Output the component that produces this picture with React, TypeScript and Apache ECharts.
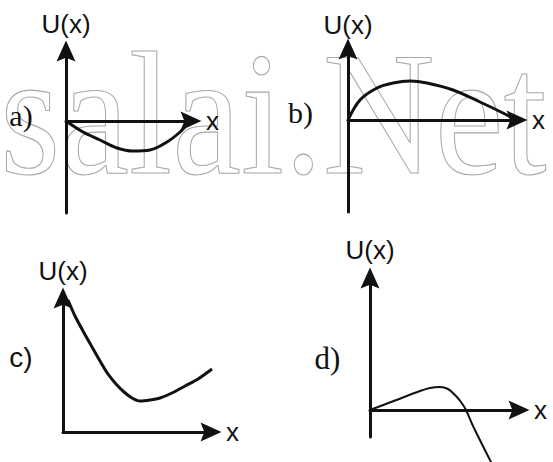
import React, { useEffect, useRef } from "react";
import * as echarts from "echarts";

// Curves (x, U) in panel units (1 unit ≈ 10 px)
const curveA: [number, number][] = [[0, 0], [1.7, -1.1], [3.4, -1.9], [5.1, -2.7], [6.7, -3.0], [8.4, -2.9], [10.1, -2.1], [11.4, -1.1], [12.2, -0.2]];
const curveB: [number, number][] = [[0, 0], [1.2, 2.0], [2.9, 3.2], [4.5, 3.7], [6.2, 3.9], [7.9, 3.7], [10.5, 3.0], [13.2, 1.8], [15.5, 0.7], [16.4, 0.2]];
const curveC: [number, number][] = [[0.5, 13.2], [1.2, 11.6], [2.0, 10.1], [2.9, 8.5], [3.7, 7.1], [4.5, 5.8], [5.3, 4.8], [6.1, 4.0], [6.9, 3.4], [7.7, 3.1], [8.7, 3.2], [9.7, 3.4], [10.9, 3.9], [12.2, 4.6], [13.5, 5.3], [14.9, 6.3]];
const curveD: [number, number][] = [[0, 0], [2.5, 0.95], [5.0, 1.9], [6.0, 2.2], [7.0, 2.3], [7.8, 2.1], [8.5, 1.5], [9.1, 0.8], [9.6, 0], [10.3, -1.6], [12.2, -5.4]];

// Axis ranges per panel
const xMax = [12.5, 16.9, 14.8, 14.9];
const yMin = [-9.2, -9.2, 0, -2.7];
const yMax = [7.0, 7.1, 13.4, 13.2];

const panelLabels = ["a)", "b)", "c)", "d)"];
const yName = "U(x)";
const xName = "x";
const watermark = "salai.Net";

const INK = "#111";
const ARROW = "path://M10,0L20,22L10,18L0,22Z";

export default function App() {
  const ref = useRef<HTMLDivElement>(null);
  useEffect(() => {
    if (!ref.current) return;
    const chart = echarts.init(ref.current, null, { renderer: "svg" });

    const grids = [
      { left: 66, top: 51, width: 125, height: 162 },
      { left: 348, top: 49, width: 169, height: 163 },
      { left: 63, top: 298, width: 148, height: 134 },
      { left: 370, top: 278, width: 149, height: 159 },
    ];
    const yGaps = [27, 24.5, 27, 28];
    const curves = [curveA, curveB, curveC, curveD];
    const widths = [3, 3, 3, 2];
    const smooths = [0.35, 0.35, 0.3, 0.35];

    const axisLine = {
      show: true,
      onZero: true,
      symbol: ["none", ARROW],
      symbolSize: [19, 22],
      lineStyle: { color: INK, width: 3 },
    };
    const common = {
      type: "value",
      axisTick: { show: false },
      axisLabel: { show: false },
      splitLine: { show: false },
    };

    const label = (text: string, x: number, y: number, family: string, size: number) => ({
      type: "text",
      x,
      y,
      z: 5,
      style: {
        text,
        fontFamily: family,
        fontSize: size,
        fill: INK,
        align: "center",
        verticalAlign: "middle",
      },
    });

    const option: any = {
      animation: false,
      grid: grids,
      xAxis: grids.map((_, i) => ({
        ...common,
        gridIndex: i,
        min: 0,
        max: xMax[i],
        axisLine,
        name: xName,
        nameLocation: "end",
        nameGap: 15,
        nameTextStyle: {
          fontFamily: "Liberation Sans",
          fontSize: 26,
          color: INK,
          align: "left",
          verticalAlign: "middle",
          padding: [0, 0, 5, 0],
        },
      })),
      yAxis: grids.map((_, i) => ({
        ...common,
        gridIndex: i,
        min: yMin[i],
        max: yMax[i],
        axisLine,
        name: yName,
        nameLocation: "end",
        nameGap: yGaps[i],
        nameTextStyle: {
          fontFamily: "Liberation Sans",
          fontSize: 26,
          color: INK,
          align: "center",
          verticalAlign: "middle",
        },
      })),
      series: curves.map((c, i) => ({
        type: "line",
        xAxisIndex: i,
        yAxisIndex: i,
        data: c,
        smooth: smooths[i],
        showSymbol: false,
        clip: false,
        lineStyle: { color: INK, width: widths[i] },
        z: 3,
      })),
      graphic: [
        {
          type: "text",
          x: 0,
          y: 173,
          scaleY: 1.13,
          z: 0,
          silent: true,
          style: {
            text: watermark,
            x: 0,
            y: -52,
            fontFamily: "Liberation Serif",
            fontSize: 155,
            fill: "none",
            stroke: "#a8a8a8",
            lineWidth: 1,
            align: "left",
            verticalAlign: "middle",
          },
        },
        label(panelLabels[0], 21, 115, "Liberation Serif", 30),
        label(panelLabels[1], 300.5, 112, "Liberation Serif", 30),
        label(panelLabels[2], 21, 357, "Liberation Sans", 28),
        label(panelLabels[3], 327.5, 358, "Liberation Serif", 31),
      ],
    };
    chart.setOption(option);
    return () => chart.dispose();
  }, []);

  return (
    <div
      ref={ref}
      style={{ position: "fixed", left: 0, top: 0, width: 553, height: 462, background: "#fff" }}
    />
  );
}
